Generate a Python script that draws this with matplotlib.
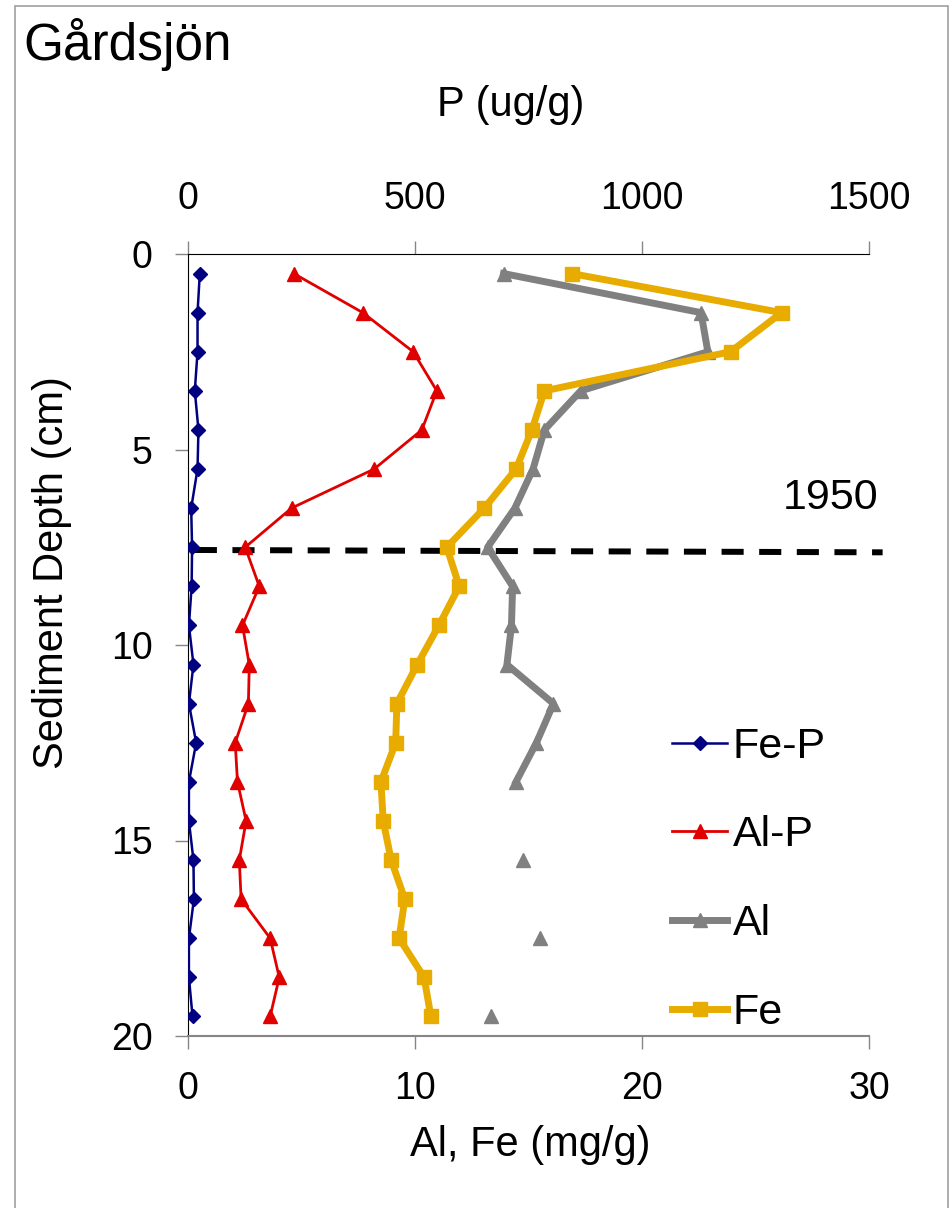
import numpy as np
import matplotlib
matplotlib.use("Agg")
import matplotlib.pyplot as plt
from matplotlib.patches import Rectangle

plt.rcParams['font.family'] = ['Liberation Sans', 'DejaVu Sans']

# sediment depth (cm), mid points of 1 cm slices
depth = [0.5, 1.5, 2.5, 3.5, 4.5, 5.5, 6.5, 7.5, 8.5, 9.5,
         10.5, 11.5, 12.5, 13.5, 14.5, 15.5, 16.5, 17.5, 18.5, 19.5]

# P fractions (ug/g), top axis
fe_p = [26, 21, 21, 15, 23, 21, 7, 9, 8, 2,
        12, 2, 18, 2, 2, 12, 13, 2, 2, 10]
al_p = [233, 385, 496, 548, 515, 410, 228, 126, 157, 120,
        135, 133, 104, 109, 128, 113, 117, 181, 201, 181]

# Al and Fe (mg/g), bottom axis
al = [13.9, 22.6, 22.9, 17.3, 15.7, 15.2, 14.4, 13.2, 14.3, 14.25,
      14.05, 16.1, 15.35, 14.45, np.nan, 14.75, np.nan, 15.5, np.nan, 13.35]
fe = [16.9, 26.15, 23.9, 15.7, 15.15, 14.45, 13.05, 11.4, 11.95, 11.05,
      10.1, 9.2, 9.15, 8.5, 8.6, 8.95, 9.55, 9.3, 10.4, 10.7]

# 1950 marker line
year_depth = [7.57, 7.63]
year_x = [0.3, 30.6]

fig = plt.figure(figsize=(9.52, 12.08), dpi=100)
fig.patches.append(Rectangle((14.5 / 952, -0.01), (948 - 14.5) / 952, 1.01 - 6 / 1208,
                             transform=fig.transFigure, fill=False,
                             edgecolor='#a0a0a0', linewidth=1.2))

ax = fig.add_axes([188 / 952, 1 - 1036 / 1208, 681 / 952, 782 / 1208])
ax2 = ax.twiny()

grey = '#868686'
fs = 27
lfs = 30

# bottom axis: Al, Fe
l_al, = ax.plot(al, depth, color='#808080', lw=5, marker='^', ms=10, label='Al', zorder=3)
l_fe, = ax.plot(fe, depth, color='#E8AC00', lw=5, marker='s', ms=10, label='Fe', zorder=4)

ax.plot(year_x, year_depth, color='black', lw=4.3, ls=(0, (3.7, 2.6)),
        clip_on=False, zorder=2)
ax.text(30.4, 6.25, '1950', fontsize=31, ha='right', va='center')

# top axis: P fractions
l_fep, = ax2.plot(fe_p, depth, color='#000080', lw=1.8, marker='D', ms=7, label='Fe-P')
l_alp, = ax2.plot(al_p, depth, color='#E00000', lw=2, marker='^', ms=10, label='Al-P')

ax.set_xlim(0, 30)
ax.set_ylim(20, 0)
ax2.set_xlim(0, 1500)
ax.set_xticks([0, 10, 20, 30])
ax.set_yticks([0, 5, 10, 15, 20])
ax2.set_xticks([0, 500, 1000, 1500])

for a in (ax, ax2):
    for s in a.spines.values():
        s.set_visible(False)
ax.spines['left'].set_visible(True)
ax.spines['left'].set_color('black')
ax.spines['bottom'].set_visible(True)
ax.spines['bottom'].set_color(grey)
ax.spines['bottom'].set_linewidth(1.5)
ax2.spines['top'].set_visible(True)
ax2.spines['top'].set_color('black')

ax.tick_params(axis='x', direction='out', length=9.4, width=1, color=grey,
               labelsize=fs, pad=16)
ax.tick_params(axis='y', direction='out', length=9.4, width=1, color=grey,
               labelsize=fs, pad=16)
ax2.tick_params(axis='x', direction='out', length=9.4, width=1, color=grey,
                labelsize=fs, pad=17)

ax.set_xlabel('Al, Fe (mg/g)', fontsize=lfs)
ax.xaxis.set_label_coords(0.502, -0.139)
ax.xaxis.label.set_va('center')
ax2.set_xlabel('P (ug/g)', fontsize=lfs)
ax2.xaxis.set_label_coords(0.474, 1.19)
ax2.xaxis.label.set_va('center')
ax.set_ylabel('Sediment Depth (cm)', fontsize=lfs)
ax.yaxis.set_label_coords(-0.2, 0.592)
ax.yaxis.label.set_va('center')

fig.text(23 / 952, 1 - 60 / 1208, 'Gårdsjön', fontsize=37, ha='left', va='baseline')

ax2.legend([l_fep, l_alp, l_al, l_fe], ['Fe-P', 'Al-P', 'Al', 'Fe'],
           loc='center left', bbox_to_anchor=(0.711, 0.2), frameon=False,
           fontsize=31, labelspacing=1.13, handlelength=1.28, handletextpad=0.12,
           borderpad=0, borderaxespad=0, numpoints=1)

fig.savefig('out.png', dpi=100, facecolor='white')
